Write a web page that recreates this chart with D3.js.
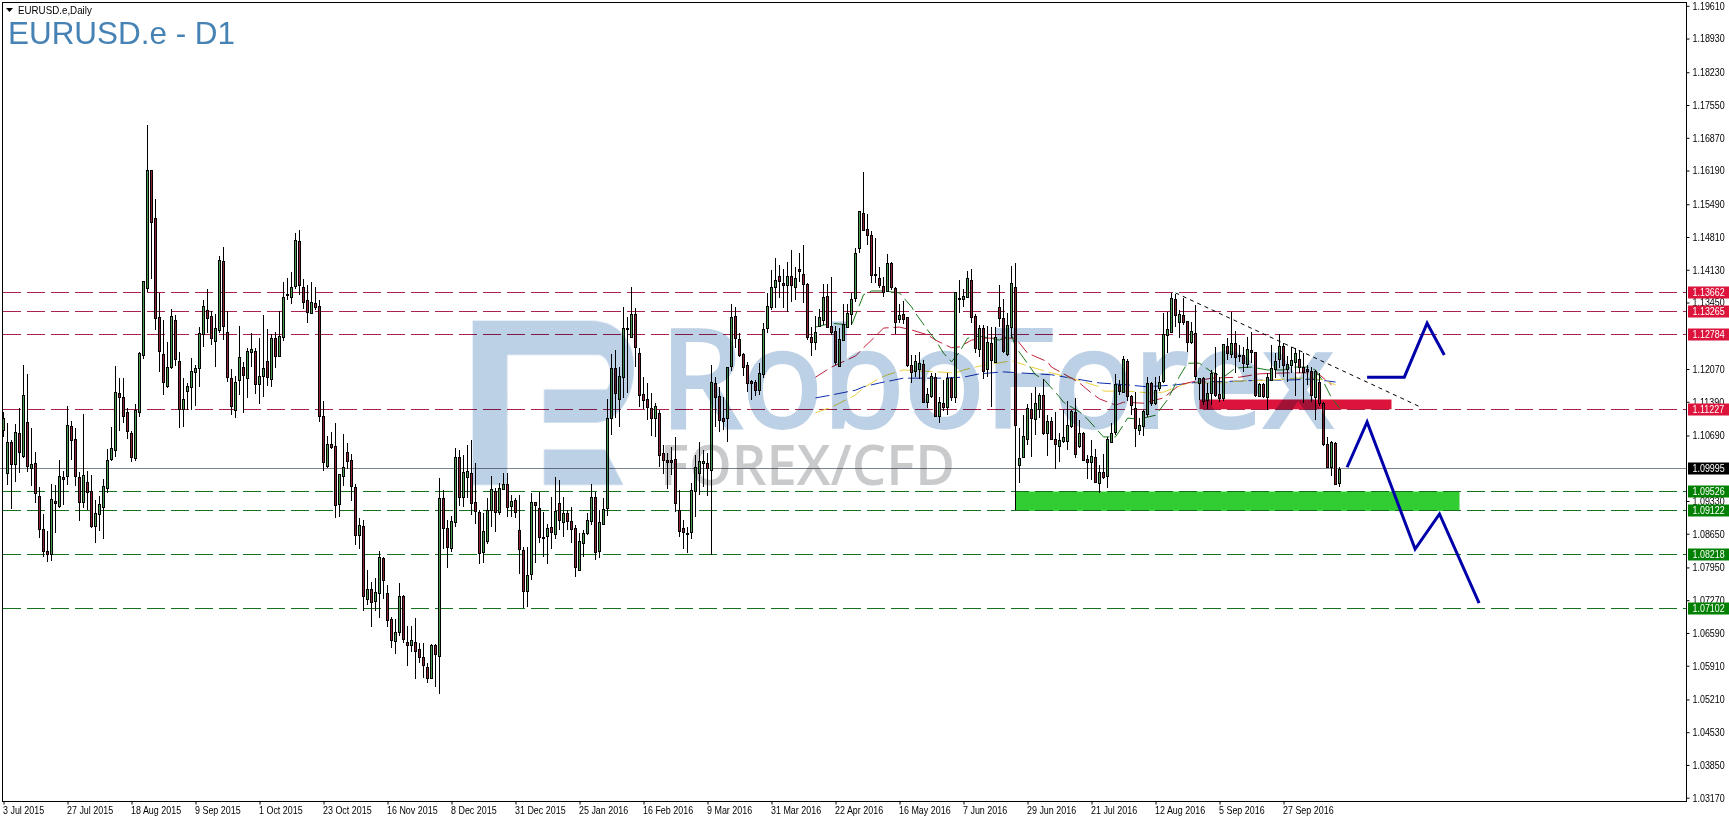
<!DOCTYPE html>
<html>
<head>
<meta charset="utf-8">
<title>EURUSD.e - D1</title>
<script src="https://cdn.jsdelivr.net/npm/d3@7"></script>
<style>
  body { margin: 0; background: #fff; overflow: hidden; }
  text { font-family: "Liberation Sans", sans-serif; }
</style>
</head>
<body>
<div id="chart"></div>
<script>
const width = 1729;
const height = 822;

//daily candles
const highs = [1.1118,1.1095,1.1060,1.1093,1.1126,1.1215,1.1197,1.1085,1.1035,1.0962,
1.0906,1.0871,1.0968,1.0966,1.1018,1.0995,1.1130,1.1099,1.1085,1.0993,
1.1114,1.0995,1.0987,1.0935,1.0943,1.0979,1.1041,1.1087,1.1213,1.1188,
1.1188,1.1126,1.1078,1.1134,1.1242,1.1388,1.1714,1.1620,1.1560,1.1365,
1.1309,1.1263,1.1332,1.1319,1.1242,1.1188,1.1178,1.1230,1.1215,1.1294,
1.1350,1.1373,1.1327,1.1321,1.1442,1.1460,1.1327,1.1207,1.1192,1.1296,
1.1222,1.1251,1.1282,1.1251,1.1271,1.1319,1.1290,1.1280,1.1284,1.1327,
1.1388,1.1396,1.1408,1.1489,1.1496,1.1394,1.1381,1.1388,1.1377,1.1350,
1.1141,1.1068,1.1076,1.1095,1.0989,1.1072,1.1053,1.1031,1.0968,1.0898,
1.0893,1.0790,1.0765,1.0773,1.0829,1.0817,1.0758,1.0692,1.0688,1.0763,
1.0738,1.0673,1.0673,1.0690,1.0638,1.0638,1.0597,1.0636,1.0636,1.0981,
1.0956,1.0893,1.0902,1.1043,1.1039,1.1028,1.1049,1.1060,1.1012,1.0914,
1.0908,1.0939,1.0985,1.0960,1.0970,1.0991,1.0991,1.0945,1.0939,1.0945,
1.0837,1.0837,1.0950,1.0931,1.0952,1.0910,1.0885,1.0941,1.0983,1.0977,
1.0941,1.0914,1.0920,1.0883,1.0866,1.0873,1.0908,1.0968,1.0952,1.0914,
1.0939,1.1145,1.1238,1.1246,1.1211,1.1336,1.1315,1.1377,1.1334,1.1251,
1.1190,1.1178,1.1157,1.1136,1.1122,1.1049,1.1033,1.1045,1.1066,1.0956,
1.0893,1.0879,1.0970,1.1028,1.1055,1.1039,1.1033,1.1215,1.1190,1.1170,
1.1149,1.1211,1.1342,1.1336,1.1282,1.1240,1.1222,1.1184,1.1184,1.1219,
1.1302,1.1365,1.1413,1.1437,1.1423,1.1415,1.1429,1.1454,1.1419,1.1448,
1.1464,1.1385,1.1294,1.1317,1.1332,1.1383,1.1383,1.1398,1.1296,1.1292,
1.1342,1.1342,1.1365,1.1458,1.1535,1.1616,1.1529,1.1493,1.1479,1.1419,
1.1398,1.1446,1.1429,1.1377,1.1342,1.1348,1.1315,1.1236,1.1236,1.1242,
1.1226,1.1168,1.1199,1.1199,1.1149,1.1184,1.1199,1.1190,1.1367,1.1392,
1.1373,1.1410,1.1415,1.1321,1.1298,1.1298,1.1296,1.1294,1.1294,1.1381,
1.1352,1.1323,1.1421,1.1427,1.1085,1.1111,1.1134,1.1157,1.1170,1.1157,
1.1186,1.1111,1.1107,1.1118,1.1074,1.1122,1.1141,1.1122,1.1147,1.1101,
1.1076,1.1028,1.1060,1.1041,1.1008,1.1031,1.1066,1.1095,1.1197,1.1184,
1.1234,1.1228,1.1153,1.1159,1.1105,1.1122,1.1190,1.1180,1.1190,1.1192,
1.1323,1.1325,1.1365,1.1363,1.1329,1.1354,1.1305,1.1305,1.1340,1.1188,
1.1190,1.1178,1.1205,1.1253,1.1190,1.1259,1.1271,1.1325,1.1286,1.1257,
1.1253,1.1273,1.1284,1.1242,1.1178,1.1178,1.1199,1.1257,1.1240,1.1280,
1.1261,1.1234,1.1253,1.1251,1.1246,1.1240,1.1215,1.1211,1.1205,1.1199,
1.1138,1.1066,1.1058,1.1055,1.1003];

const lows = [1.1065,1.0966,1.0916,1.0972,1.0991,1.1022,1.0993,1.0964,1.0929,1.0856,
1.0817,1.0806,1.0808,1.0866,1.0918,1.0925,1.0966,1.1018,1.0964,1.0891,
1.0918,1.0914,1.0877,1.0846,1.0871,1.0854,1.0950,1.1016,1.1024,1.1078,
1.1095,1.1062,1.1014,1.1016,1.1107,1.1228,1.1367,1.1394,1.1288,1.1201,
1.1153,1.1168,1.1207,1.1213,1.1085,1.1087,1.1122,1.1122,1.1130,1.1170,
1.1253,1.1282,1.1257,1.1211,1.1282,1.1267,1.1180,1.1111,1.1105,1.1153,
1.1116,1.1147,1.1211,1.1155,1.1134,1.1149,1.1172,1.1170,1.1209,1.1232,
1.1265,1.1350,1.1342,1.1373,1.1361,1.1332,1.1302,1.1321,1.1329,1.1097,
1.0995,1.1001,1.1041,1.0898,1.0900,1.0964,1.0999,1.0933,1.0842,1.0833,
1.0705,1.0717,1.0671,1.0705,1.0690,1.0729,1.0671,1.0628,1.0615,1.0653,
1.0638,1.0590,1.0619,1.0563,1.0597,1.0565,1.0555,1.0563,1.0547,1.0532,
1.0833,1.0794,1.0827,1.0879,1.0923,1.0920,1.0939,1.0904,1.0885,1.0802,
1.0804,1.0844,1.0879,1.0869,1.0904,1.0956,1.0900,1.0900,1.0898,1.0781,
1.0711,1.0713,1.0769,1.0804,1.0846,1.0817,1.0802,1.0833,1.0854,1.0873,
1.0858,1.0873,1.0846,1.0775,1.0788,1.0817,1.0862,1.0883,1.0810,1.0815,
1.0883,1.0902,1.1070,1.1105,1.1087,1.1147,1.1157,1.1271,1.1211,1.1128,
1.1124,1.1101,1.1068,1.1066,1.1003,1.0989,1.0958,1.0987,1.0910,1.0858,
1.0833,1.0825,1.0854,1.0900,1.0945,1.0962,1.0943,1.0821,1.1087,1.1076,
1.1080,1.1055,1.1203,1.1251,1.1232,1.1192,1.1159,1.1143,1.1151,1.1153,
1.1188,1.1282,1.1329,1.1334,1.1354,1.1334,1.1325,1.1346,1.1350,1.1388,
1.1344,1.1267,1.1234,1.1246,1.1294,1.1298,1.1294,1.1278,1.1215,1.1211,
1.1267,1.1294,1.1298,1.1346,1.1448,1.1493,1.1464,1.1385,1.1385,1.1375,
1.1356,1.1367,1.1371,1.1280,1.1302,1.1300,1.1211,1.1178,1.1190,1.1186,
1.1138,1.1126,1.1147,1.1107,1.1095,1.1120,1.1111,1.1141,1.1136,1.1323,
1.1336,1.1354,1.1302,1.1240,1.1232,1.1186,1.1190,1.1128,1.1222,1.1294,
1.1240,1.1234,1.1271,1.0914,1.0970,1.1022,1.1049,1.1024,1.1070,1.1105,
1.1070,1.1026,1.1060,1.0999,1.1014,1.1053,1.1039,1.1085,1.1022,1.1043,
1.1018,1.0979,1.0977,1.0970,1.0950,1.0979,1.0960,1.1053,1.1070,1.1153,
1.1157,1.1141,1.1111,1.1045,1.1070,1.1068,1.1107,1.1130,1.1132,1.1161,
1.1178,1.1240,1.1282,1.1294,1.1271,1.1298,1.1242,1.1259,1.1184,1.1143,
1.1132,1.1124,1.1132,1.1149,1.1138,1.1141,1.1226,1.1230,1.1199,1.1222,
1.1201,1.1209,1.1219,1.1149,1.1149,1.1147,1.1122,1.1184,1.1188,1.1209,
1.1190,1.1180,1.1199,1.1151,1.1199,1.1136,1.1174,1.1138,1.1101,1.1130,
1.1047,1.1001,1.0985,1.0966,1.0962];

const opens = [1.1080,1.0991,1.1055,1.1010,1.1074,1.1026,1.1095,1.0999,1.1010,1.0943,
1.0873,1.0829,1.0823,1.0931,1.0920,1.0981,1.0983,1.1087,1.1060,1.0981,
1.0929,1.0972,1.0952,1.0879,1.0904,1.0920,1.0960,1.1018,1.1039,1.1157,
1.1147,1.1116,1.1074,1.1020,1.1118,1.1234,1.1375,1.1620,1.1520,1.1313,
1.1238,1.1172,1.1209,1.1307,1.1222,1.1122,1.1159,1.1168,1.1199,1.1207,
1.1278,1.1329,1.1315,1.1265,1.1288,1.1431,1.1282,1.1188,1.1122,1.1182,
1.1211,1.1188,1.1242,1.1244,1.1176,1.1192,1.1222,1.1186,1.1271,1.1234,
1.1273,1.1361,1.1356,1.1377,1.1471,1.1377,1.1350,1.1323,1.1344,1.1336,
1.1109,1.1006,1.1051,1.1047,1.0925,1.0985,1.1033,1.1016,1.0962,1.0862,
1.0881,1.0729,1.0750,1.0723,1.0740,1.0813,1.0740,1.0686,1.0640,1.0659,
1.0734,1.0640,1.0634,1.0640,1.0624,1.0609,1.0588,1.0563,1.0632,1.0611,
1.0939,1.0875,1.0835,1.0889,1.1024,1.0941,1.0983,1.0991,1.0929,1.0910,
1.0825,1.0850,1.0912,1.0952,1.0908,1.0958,1.0968,1.0920,1.0933,1.0871,
1.0831,1.0746,1.0779,1.0929,1.0918,1.0858,1.0858,1.0877,1.0864,1.0927,
1.0889,1.0906,1.0891,1.0875,1.0788,1.0846,1.0866,1.0891,1.0941,1.0829,
1.0885,1.0918,1.1105,1.1207,1.1145,1.1190,1.1292,1.1273,1.1321,1.1240,
1.1155,1.1143,1.1126,1.1105,1.1114,1.1031,1.1016,1.1016,1.1020,1.0914,
1.0875,1.0866,1.0866,1.0954,1.0989,1.1010,1.1010,1.0997,1.1176,1.1149,
1.1105,1.1105,1.1211,1.1315,1.1269,1.1238,1.1215,1.1182,1.1178,1.1161,
1.1197,1.1290,1.1336,1.1375,1.1398,1.1385,1.1379,1.1398,1.1375,1.1413,
1.1404,1.1383,1.1273,1.1261,1.1294,1.1309,1.1358,1.1296,1.1284,1.1213,
1.1267,1.1294,1.1321,1.1352,1.1456,1.1529,1.1496,1.1485,1.1404,1.1394,
1.1379,1.1369,1.1425,1.1375,1.1311,1.1321,1.1313,1.1215,1.1201,1.1207,
1.1217,1.1138,1.1151,1.1190,1.1109,1.1136,1.1128,1.1188,1.1147,1.1354,
1.1352,1.1354,1.1390,1.1315,1.1248,1.1292,1.1205,1.1259,1.1222,1.1334,
1.1311,1.1238,1.1294,1.1377,1.1008,1.1022,1.1060,1.1122,1.1103,1.1124,
1.1153,1.1074,1.1099,1.1060,1.1045,1.1055,1.1055,1.1087,1.1116,1.1047,
1.1074,1.1020,1.1014,1.1024,1.0970,1.0993,1.0983,1.1055,1.1074,1.1172,
1.1157,1.1222,1.1149,1.1126,1.1078,1.1087,1.1111,1.1176,1.1136,1.1168,
1.1180,1.1278,1.1284,1.1352,1.1305,1.1319,1.1305,1.1261,1.1280,1.1178,
1.1188,1.1143,1.1155,1.1197,1.1155,1.1145,1.1253,1.1236,1.1259,1.1234,
1.1236,1.1217,1.1246,1.1242,1.1149,1.1174,1.1149,1.1184,1.1205,1.1226,
1.1253,1.1207,1.1213,1.1222,1.1226,1.1211,1.1205,1.1201,1.1147,1.1180,
1.1136,1.1051,1.1003,1.1053,1.0970];

const closes = [1.1105,1.1055,1.1010,1.1076,1.1035,1.1153,1.1003,1.1008,1.0947,1.0875,
1.0827,1.0823,1.0937,1.0927,1.0983,1.0977,1.1089,1.1058,1.0983,1.0929,
1.0985,1.0952,1.0879,1.0906,1.0925,1.0964,1.1018,1.1041,1.1159,1.1149,
1.1107,1.1076,1.1024,1.1120,1.1240,1.1388,1.1620,1.1512,1.1313,1.1242,
1.1180,1.1211,1.1315,1.1226,1.1122,1.1143,1.1170,1.1201,1.1207,1.1280,
1.1336,1.1313,1.1269,1.1292,1.1433,1.1296,1.1188,1.1130,1.1180,1.1230,
1.1195,1.1244,1.1248,1.1176,1.1192,1.1209,1.1188,1.1271,1.1234,1.1275,
1.1356,1.1359,1.1377,1.1473,1.1379,1.1346,1.1325,1.1346,1.1336,1.1107,
1.1014,1.1051,1.1045,1.0925,1.0987,1.1003,1.1014,1.0962,1.0862,1.0883,
1.0736,1.0750,1.0723,1.0742,1.0815,1.0767,1.0684,1.0642,1.0659,1.0734,
1.0644,1.0634,1.0644,1.0622,1.0607,1.0592,1.0565,1.0632,1.0613,1.0939,
1.0877,1.0835,1.0891,1.1024,1.0941,1.0993,1.0995,1.0929,1.0910,1.0825,
1.0869,1.0914,1.0956,1.0908,1.0958,1.0968,1.0920,1.0931,1.0908,1.0831,
1.0746,1.0779,1.0929,1.0923,1.0858,1.0856,1.0875,1.0866,1.0912,1.0891,
1.0908,1.0889,1.0875,1.0794,1.0848,1.0866,1.0893,1.0941,1.0827,1.0889,
1.0916,1.1105,1.1209,1.1155,1.1192,1.1292,1.1290,1.1321,1.1253,1.1153,
1.1143,1.1126,1.1105,1.1130,1.1026,1.1016,1.1012,1.1012,1.0929,1.0871,
1.0866,1.0864,1.0954,1.1003,1.1014,1.1014,1.0999,1.1180,1.1147,1.1099,
1.1099,1.1211,1.1313,1.1269,1.1236,1.1211,1.1178,1.1178,1.1161,1.1197,
1.1290,1.1336,1.1377,1.1390,1.1388,1.1381,1.1398,1.1379,1.1394,1.1408,
1.1383,1.1273,1.1263,1.1282,1.1313,1.1356,1.1294,1.1284,1.1219,1.1269,
1.1300,1.1323,1.1352,1.1446,1.1533,1.1493,1.1483,1.1402,1.1402,1.1379,
1.1367,1.1427,1.1375,1.1305,1.1319,1.1311,1.1213,1.1201,1.1222,1.1219,
1.1138,1.1155,1.1192,1.1109,1.1138,1.1128,1.1188,1.1149,1.1365,1.1353,
1.1358,1.1394,1.1313,1.1248,1.1292,1.1203,1.1261,1.1224,1.1273,1.1311,
1.1242,1.1298,1.1385,1.1091,1.1022,1.1066,1.1124,1.1103,1.1136,1.1153,
1.1074,1.1099,1.1062,1.1049,1.1058,1.1064,1.1089,1.1118,1.1028,1.1074,
1.1018,1.1014,1.1026,1.0972,1.0993,1.0983,1.1060,1.1074,1.1174,1.1159,
1.1226,1.1149,1.1130,1.1085,1.1089,1.1118,1.1176,1.1134,1.1163,1.1180,
1.1278,1.1290,1.1354,1.1319,1.1321,1.1305,1.1261,1.1284,1.1190,1.1188,
1.1141,1.1157,1.1197,1.1151,1.1147,1.1257,1.1238,1.1259,1.1230,1.1232,
1.1219,1.1248,1.1242,1.1153,1.1174,1.1149,1.1190,1.1209,1.1222,1.1253,
1.1213,1.1217,1.1224,1.1240,1.1209,1.1201,1.1201,1.1151,1.1201,1.1136,
1.1051,1.1003,1.1055,1.0968,1.0999];

//moving averages
const maGreenBars = [203,207,212,215,217,220,224,227,228,231,233,235,237,239,241,244,249,252,253,255,258,260,264,265,269,271,275,278,280,281,284,288,291,294,296,299,302,305,308,312,316,320,322,326,328,330,332,334];
const maGreenVals = [1.1294,1.1302,1.1298,1.1361,1.1369,1.1369,1.1365,1.1336,1.1323,1.1288,1.1267,1.1240,1.1222,1.1242,1.1271,1.1275,1.1267,1.1278,1.1253,1.1230,1.1195,1.1186,1.1149,1.1138,1.1118,1.1103,1.1066,1.1066,1.1091,1.1105,1.1103,1.1111,1.1143,1.1192,1.1219,1.1219,1.1201,1.1190,1.1209,1.1211,1.1205,1.1205,1.1211,1.1211,1.1205,1.1180,1.1147,1.1126];
const maRedBars = [203,207,213,215,218,220,224,227,231,233,237,239,242,245,253,256,261,262,267,269,272,274,278,280,285,290,294,297,302,309,314,321,327,329,332];
const maRedVals = [1.1190,1.1211,1.1234,1.1251,1.1275,1.1292,1.1294,1.1288,1.1278,1.1267,1.1251,1.1253,1.1267,1.1271,1.1271,1.1240,1.1222,1.1211,1.1188,1.1178,1.1157,1.1145,1.1132,1.1138,1.1136,1.1147,1.1174,1.1180,1.1188,1.1190,1.1197,1.1199,1.1199,1.1195,1.1174];
const maYellowBars = [203,207,209,213,215,219,221,225,233,238,240,244,252,257,262,267,274,275,281,287,290,296,304,309,317,323,327,330,333];
const maYellowVals = [1.1116,1.1128,1.1136,1.1153,1.1168,1.1188,1.1195,1.1205,1.1201,1.1199,1.1205,1.1213,1.1224,1.1211,1.1199,1.1188,1.1170,1.1161,1.1161,1.1157,1.1159,1.1178,1.1178,1.1182,1.1184,1.1188,1.1188,1.1184,1.1174];
const maBlueBars = [203,207,213,215,219,225,234,240,244,250,262,267,274,281,286,293,299,309,315,321,327,333];
const maBlueVals = [1.1147,1.1153,1.1163,1.1170,1.1178,1.1188,1.1188,1.1190,1.1197,1.1201,1.1195,1.1188,1.1178,1.1174,1.1170,1.1174,1.1180,1.1182,1.1184,1.1184,1.1186,1.1180];

//horizontal levels
const resistanceLevels = [1.13662, 1.13265, 1.12784, 1.11227];
const supportLevels = [1.09526, 1.09122, 1.08218, 1.07102];
const lastPrice = 1.09995;

//zones and drawn lines
const redZoneBars = [299, 347];
const redZonePrices = [1.1143, 1.11227];
const greenZoneBars = [253, 364];
const greenZonePrices = [1.09526, 1.09122];
const trendBars = [293, 354];
const trendPrices = [1.1365, 1.1129];
const forecastUpperBars = [340.9, 350.2, 355.9, 360.2];
const forecastUpperPrices = [1.1190, 1.1190, 1.1302, 1.1236];
const forecastLowerBars = [335.9, 340.9, 352.9, 359, 368.9];
const forecastLowerPrices = [1.1003, 1.1097, 1.0833, 1.0906, 1.0721];

//axes
const priceTicks = [1.1961,1.1893,1.1823,1.1755,1.1687,1.1619,1.1549,1.1481,1.1413,1.1345,1.1207,1.1139,1.1069,1.0933,1.0865,1.0795,1.0727,1.0659,1.0591,1.0521,1.0453,1.0385,1.0317];
const dateLabels = ["3 Jul 2015","27 Jul 2015","18 Aug 2015","9 Sep 2015","1 Oct 2015","23 Oct 2015","16 Nov 2015","8 Dec 2015","31 Dec 2015","25 Jan 2016","16 Feb 2016","9 Mar 2016","31 Mar 2016","22 Apr 2016","16 May 2016","7 Jun 2016","29 Jun 2016","21 Jul 2016","12 Aug 2016","5 Sep 2016","27 Sep 2016"];
const barsPerDateLabel = 16;

const plot = {left: 2.5, top: 2.5, right: 1686.5, bottom: 801.5};

const xScale = d3.scaleLinear().domain([0, 334]).range([3.5, 1339.5]);
const yScale = d3.scaleLinear().domain([1.1961, 1.0317]).range([5.8, 797.7]);
const crisp = v => Math.round(v - 0.5) + 0.5;

//terminal font is narrower than anything installed, so squeeze the small labels
function squeeze(selection, factor) {
    selection.each(function () {
        d3.select(this)
            .attr("textLength", this.getComputedTextLength() * factor)
            .attr("lengthAdjust", "spacingAndGlyphs");
    });
}

const candles = highs.map((h, i) => ({i: i, high: h, low: lows[i], open: opens[i], close: closes[i]}));

const svg = d3.select("#chart").append("svg").attr("width", width).attr("height", height)
    .style("display", "block").style("background", "#fff");

//zones go under everything
const zones = [
    {bars: redZoneBars, prices: redZonePrices, fill: "#dc143c"},
    {bars: greenZoneBars, prices: greenZonePrices, fill: "#32cd32"}
];
svg.append("g").selectAll("rect").data(zones).join("rect")
    .attr("x", d => xScale(d.bars[0]))
    .attr("y", d => crisp(yScale(d.prices[0])))
    .attr("width", d => xScale(d.bars[1]) - xScale(d.bars[0]))
    .attr("height", d => yScale(d.prices[1]) - yScale(d.prices[0]))
    .attr("fill", d => d.fill);

//levels
const levels = resistanceLevels.map(v => ({v: v, line: "#a8234c", tag: "#dc143c"}))
    .concat(supportLevels.map(v => ({v: v, line: "#17701c", tag: "#008000"})));

svg.append("g").selectAll("line").data(levels).join("line")
    .attr("x1", plot.left).attr("x2", plot.right)
    .attr("y1", d => crisp(yScale(d.v))).attr("y2", d => crisp(yScale(d.v)))
    .attr("stroke", d => d.line)
    .attr("stroke-dasharray", "18,6")
    .attr("shape-rendering", "crispEdges");

svg.append("line")
    .attr("x1", 0).attr("x2", plot.right)
    .attr("y1", crisp(yScale(lastPrice))).attr("y2", crisp(yScale(lastPrice)))
    .attr("stroke", "#7d858c")
    .attr("shape-rendering", "crispEdges");

//moving averages
const maLine = d3.line().x(d => xScale(d[0])).y(d => yScale(d[1]));
const mas = [
    {bars: maBlueBars, vals: maBlueVals, color: "#1030b0"},
    {bars: maYellowBars, vals: maYellowVals, color: "#e8d040"},
    {bars: maRedBars, vals: maRedVals, color: "#c4203a"},
    {bars: maGreenBars, vals: maGreenVals, color: "#1a7a1a"}
];
svg.append("g").selectAll("path").data(mas).join("path")
    .attr("d", d => maLine(d.bars.map((b, i) => [b, d.vals[i]])))
    .attr("fill", "none")
    .attr("stroke", d => d.color)
    .attr("stroke-dasharray", "14,5");

//candles
const candle = svg.append("g").attr("shape-rendering", "crispEdges").selectAll("g").data(candles).join("g");

candle.append("line")
    .attr("x1", d => xScale(d.i)).attr("x2", d => xScale(d.i))
    .attr("y1", d => yScale(d.high)).attr("y2", d => yScale(d.low))
    .attr("stroke", "#000");

candle.append("rect")
    .attr("x", d => xScale(d.i) - 1)
    .attr("y", d => crisp(yScale(Math.max(d.open, d.close))))
    .attr("width", 2)
    .attr("height", d => Math.max(1, Math.round(Math.abs(yScale(d.open) - yScale(d.close)))))
    .attr("fill", d => d.close >= d.open ? "#4c9a50" : "#8c2332")
    .attr("stroke", "#000");

//trend line
svg.append("line")
    .attr("x1", xScale(trendBars[0])).attr("x2", xScale(trendBars[1]))
    .attr("y1", yScale(trendPrices[0])).attr("y2", yScale(trendPrices[1]))
    .attr("stroke", "#000")
    .attr("stroke-dasharray", "4,4");

//forecast
const forecast = [
    forecastUpperBars.map((b, i) => [b, forecastUpperPrices[i]]),
    forecastLowerBars.map((b, i) => [b, forecastLowerPrices[i]])
];
svg.append("g").selectAll("path").data(forecast).join("path")
    .attr("d", maLine)
    .attr("fill", "none")
    .attr("stroke", "#0000aa")
    .attr("stroke-width", 3);

//watermark sits over the chart and darkens it
const watermark = svg.append("g").style("mix-blend-mode", "multiply");

const logo = watermark.append("g").attr("transform", "translate(430,250) scale(0.3333)").attr("fill", "#bcd0e6");
logo.append("path").attr("d", "M128,212 L480,212 C580,212 612,290 612,350 C612,440 570,510 500,518 L342,518 L342,418 L530,418 C548,400 548,330 510,315 L232,315 L232,705 L128,705 Z");
logo.append("path").attr("d", "M342,598 L525,598 L580,705 L342,705 Z");

watermark.append("text")
    .attr("x", 660).attr("y", 427)
    .attr("textLength", 673)
    .attr("lengthAdjust", "spacingAndGlyphs")
    .style("font-family", "'Open Sans'")
    .style("font-size", "136px")
    .attr("fill", "#bcd0e6")
    .attr("stroke", "#bcd0e6")
    .attr("stroke-width", 4)
    .text("RoboForex");

watermark.append("text")
    .attr("x", 660).attr("y", 485)
    .attr("textLength", 295)
    .attr("lengthAdjust", "spacingAndGlyphs")
    .style("font-family", "'Open Sans'")
    .style("font-weight", 600)
    .style("font-size", "56px")
    .attr("fill", "#c9cacc")
    .text("FOREX/CFD");

//frame and axes
svg.append("rect")
    .attr("x", plot.left).attr("y", plot.top)
    .attr("width", plot.right - plot.left).attr("height", plot.bottom - plot.top)
    .attr("fill", "none").attr("stroke", "#000")
    .attr("shape-rendering", "crispEdges");

const yAxis = d3.axisRight(yScale).tickValues(priceTicks).tickFormat(d3.format(".5f")).tickSize(3).tickPadding(3);
const gy = svg.append("g").attr("transform", `translate(${plot.right},0)`).call(yAxis);
const dateTicks = dateLabels.map((d, i) => i * barsPerDateLabel);
const xAxis = d3.axisBottom(xScale).tickValues(dateTicks).tickFormat((d, i) => dateLabels[i]).tickSize(3).tickPadding(2);
const gx = svg.append("g").attr("transform", `translate(0,${plot.bottom})`).call(xAxis);

[gy, gx].forEach(g => {
    g.select(".domain").remove();
    g.selectAll("line").attr("stroke", "#000");
    g.selectAll("text").attr("fill", "#000").style("font-size", "10.5px")
        .style("font-family", "'Liberation Sans', sans-serif")
        .call(squeeze, 0.85);
});
gx.selectAll("text").attr("text-anchor", "start").attr("dx", "-1");

//price tags
const tags = levels.map(d => ({v: d.v, fill: d.tag})).concat([{v: lastPrice, fill: "#000"}]);
const tag = svg.append("g").selectAll("g").data(tags).join("g")
    .attr("transform", d => `translate(1688,${crisp(yScale(d.v)) - 6})`);
tag.append("rect").attr("width", 41).attr("height", 12).attr("fill", d => d.fill);
tag.append("text")
    .attr("x", 4.5).attr("y", 9.5)
    .attr("fill", "#fff")
    .style("font-size", "10.5px")
    .text(d => d3.format(".5f")(d.v))
    .call(squeeze, 0.85);

//titles
svg.append("path").attr("d", "M6,8 L13,8 L9.5,12 Z").attr("fill", "#000");
svg.append("text")
    .attr("x", 18).attr("y", 14)
    .style("font-size", "10.5px")
    .attr("fill", "#000")
    .text("EURUSD.e,Daily")
    .call(squeeze, 0.93);
svg.append("text")
    .attr("x", 8).attr("y", 44)
    .style("font-family", "'Liberation Sans'")
    .style("font-size", "32px")
    .attr("textLength", 227)
    .attr("lengthAdjust", "spacingAndGlyphs")
    .attr("fill", "#4682b4")
    .text("EURUSD.e - D1");
</script>
</body>
</html>
